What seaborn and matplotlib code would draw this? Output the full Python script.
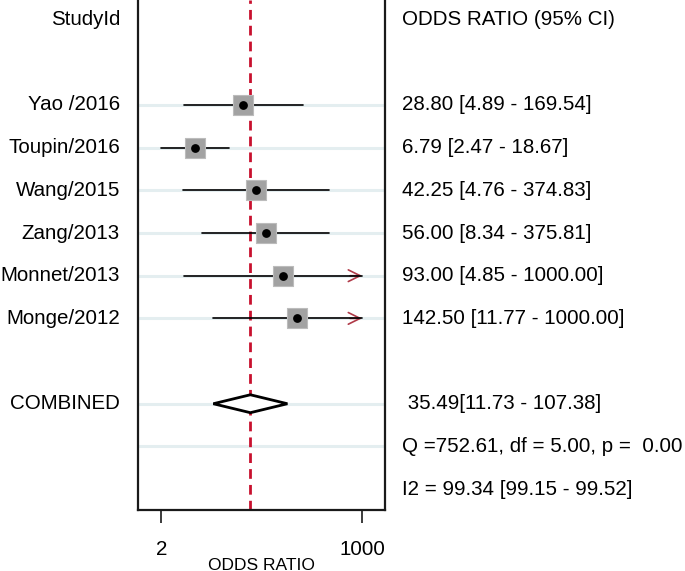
import numpy as np
import pandas as pd
import matplotlib
matplotlib.use("Agg")
import matplotlib.pyplot as plt
import matplotlib.transforms as mtransforms
import seaborn as sns

# study level data (odds ratio and 95% CI)
studies = ["Yao /2016", "Toupin/2016", "Wang/2015", "Zang/2013", "Monnet/2013", "Monge/2012"]
or_vals = [28.80, 6.79, 42.25, 56.00, 93.00, 142.50]
ci_low = [4.89, 2.47, 4.76, 8.34, 4.85, 11.77]
ci_high = [169.54, 18.67, 374.83, 375.81, 1000.00, 1000.00]
right_text = ["28.80 [4.89 - 169.54]", "6.79 [2.47 - 18.67]", "42.25 [4.76 - 374.83]",
              "56.00 [8.34 - 375.81]", "93.00 [4.85 - 1000.00]", "142.50 [11.77 - 1000.00]"]

# pooled estimate
pooled = [35.49, 11.73, 107.38]
pooled_text = " 35.49[11.73 - 107.38]"
q_text = "Q =752.61, df = 5.00, p =  0.00"
i2_text = "I2 = 99.34 [99.15 - 99.52]"

# x ticks (tick placed at min CI, labelled rounded)
tick_vals = [2.47, 1000]
tick_labels = ["2", "1000"]

sns.set_style("white")
plt.rcParams["font.family"] = ["Liberation Sans", "DejaVu Sans"]
plt.rcParams["text.color"] = "black"
plt.rcParams["xtick.color"] = "black"

FS = 14.8

df = pd.DataFrame({"study": studies, "or": or_vals, "lo": ci_low, "hi": ci_high})
df["row"] = np.arange(2, 2 + len(df))
pooled_row = 9

fig = plt.figure(figsize=(6.85, 5.71), dpi=100)
ax = fig.add_axes([137.5 / 685, 1 - 510 / 571, (385 - 137.5) / 685, 510 / 571])
ax.set_xscale("log")
ax.set_xlim(1.214, 1990)
ax.set_ylim(11.49, -0.46)

# light row lines
for r in list(df["row"]) + [pooled_row, pooled_row + 1]:
    ax.axhline(r, color="#e4eef0", lw=2.2, zorder=0)

# pooled estimate reference line
ax.axvline(pooled[0], color="#c8102e", lw=2.0, ls=(0, (3.5, 2.2)), zorder=1)

# CI lines
for _, r in df.iterrows():
    ax.plot([r["lo"], r["hi"]], [r["row"], r["row"]], color="black", lw=1.2, zorder=2)
    if r["hi"] >= 1000:
        ax.annotate("", xy=(r["hi"], r["row"]), xytext=(r["hi"] * 0.7, r["row"]),
                    arrowprops=dict(arrowstyle="->,head_length=0.85,head_width=0.42",
                                    color="#b03a48", lw=1.2, shrinkA=0, shrinkB=0),
                    zorder=1.5)

# study boxes and point estimates
sns.scatterplot(data=df, x="or", y="row", marker="s", s=215, color="#a2a2a2",
                edgecolor="#bcbcbc", linewidth=0.8, zorder=3, ax=ax, legend=False)
sns.scatterplot(data=df, x="or", y="row", marker="o", s=40, color="black",
                linewidth=0, zorder=4, ax=ax, legend=False)

# pooled diamond
h = 0.21
ax.fill([pooled[1], pooled[0], pooled[2], pooled[0]],
        [pooled_row, pooled_row - h, pooled_row, pooled_row + h],
        facecolor="white", edgecolor="black", lw=2.0, zorder=3)

# axes styling
for side in ["left", "right", "bottom"]:
    ax.spines[side].set_color("#1a1a1a")
    ax.spines[side].set_linewidth(1.6)
ax.spines["top"].set_visible(False)
ax.set_yticks([])
ax.set_xticks(tick_vals)
ax.set_xticklabels(tick_labels, fontsize=FS)
ax.xaxis.set_minor_locator(matplotlib.ticker.NullLocator())
ax.tick_params(axis="x", direction="out", length=9.5, width=1.2, color="#1a1a1a",
               pad=12, bottom=True)
ax.set_xlabel("")
ax.set_ylabel("")
fig.text(261 / 685, 1 - 565 / 571, "ODDS RATIO", ha="center", va="center", fontsize=12.5)

# side columns of text
tr = mtransforms.blended_transform_factory(fig.transFigure, ax.transData)
left_x = 120 / 685
right_x = 402 / 685
ax.text(left_x, 0, "StudyId", transform=tr, ha="right", va="center", fontsize=FS, clip_on=False)
ax.text(right_x, 0, "ODDS RATIO (95% CI)", transform=tr, ha="left", va="center", fontsize=FS, clip_on=False)
for _, r in df.iterrows():
    ax.text(left_x, r["row"], r["study"], transform=tr, ha="right", va="center", fontsize=FS, clip_on=False)
for row, txt in zip(df["row"], right_text):
    ax.text(right_x, row, txt, transform=tr, ha="left", va="center", fontsize=FS, clip_on=False)
ax.text(left_x, pooled_row, "COMBINED", transform=tr, ha="right", va="center", fontsize=FS, clip_on=False)
ax.text(right_x, pooled_row, pooled_text, transform=tr, ha="left", va="center", fontsize=FS, clip_on=False)
ax.text(right_x, pooled_row + 1, q_text, transform=tr, ha="left", va="center", fontsize=FS, clip_on=False)
ax.text(right_x, pooled_row + 2, i2_text, transform=tr, ha="left", va="center", fontsize=FS, clip_on=False)

fig.savefig("out.png", dpi=100)
